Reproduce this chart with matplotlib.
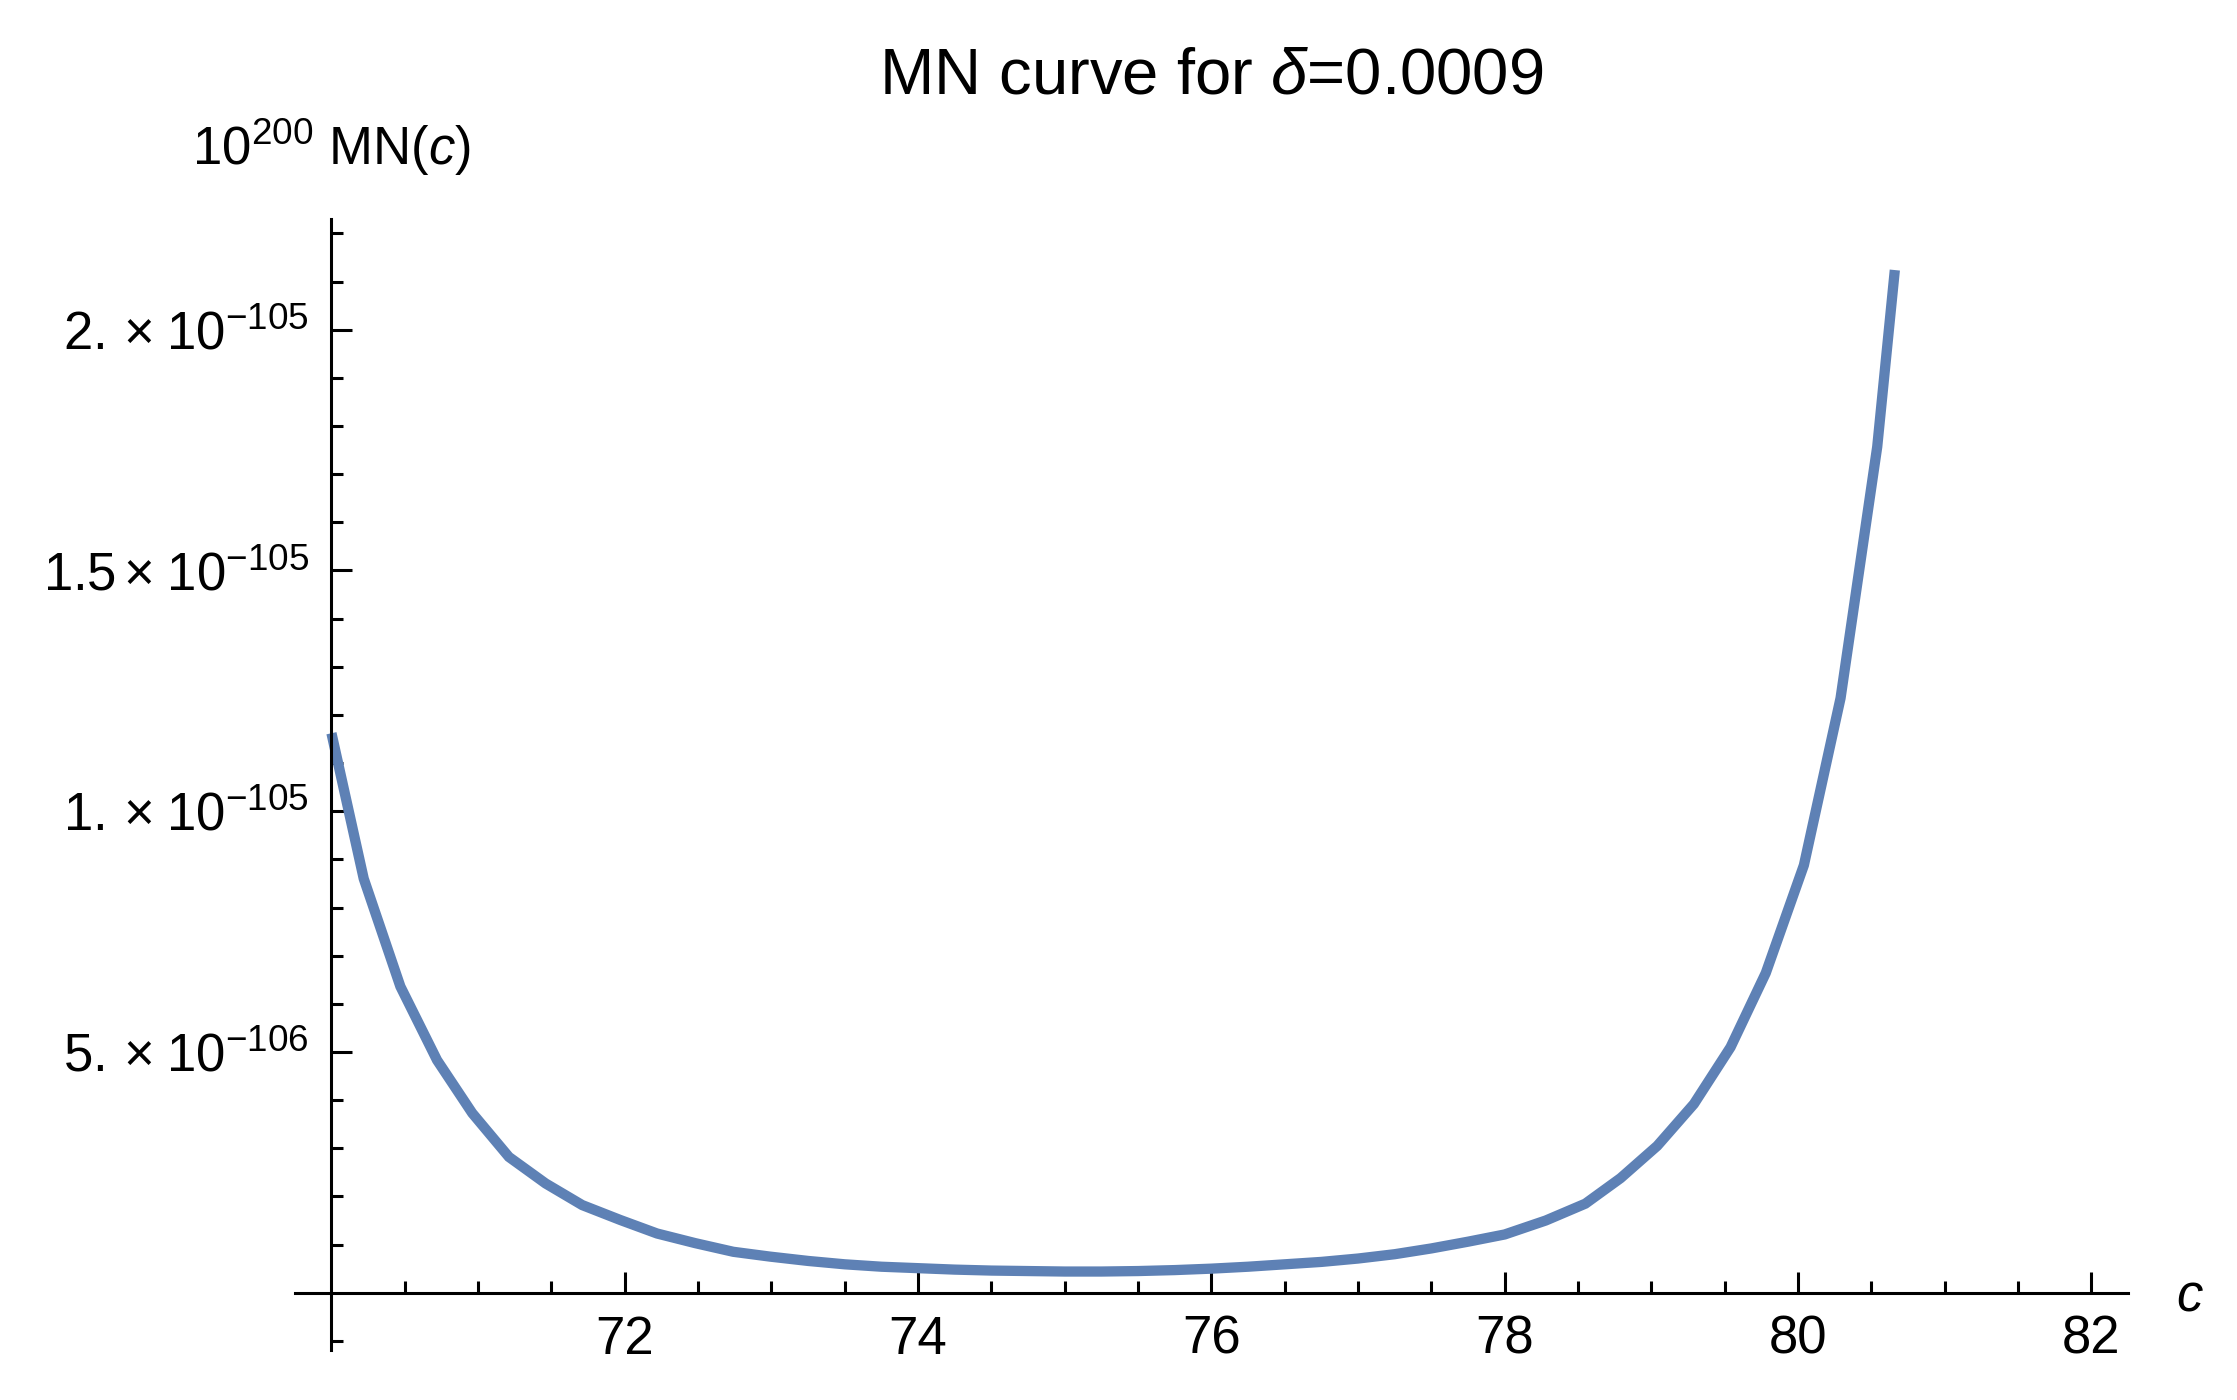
import numpy as np
import matplotlib
matplotlib.use("Agg")
import matplotlib.pyplot as plt
import matplotlib.transforms as mtransforms
from matplotlib.ticker import FixedLocator, FixedFormatter, NullFormatter

plt.rcParams.update({
    "font.family": ["Liberation Sans", "DejaVu Sans"],
    "mathtext.fontset": "custom",
    "mathtext.rm": "Liberation Sans",
    "mathtext.it": "Liberation Sans:italic",
    "mathtext.bf": "Liberation Sans:bold",
})

# ---- data ----
MN_UNIT = 1e-106
c_values = [70.00, 70.22, 70.47, 70.72, 70.96, 71.21, 71.46, 71.71, 71.97, 72.22,
            72.48, 72.74, 72.99, 73.25, 73.50, 73.75, 74.00, 74.25, 74.50, 74.75,
            75.00, 75.25, 75.50, 75.75, 76.00, 76.25, 76.50, 76.75, 77.00, 77.25,
            77.50, 77.75, 78.00, 78.28, 78.55, 78.79, 79.04, 79.29, 79.54, 79.78,
            80.04, 80.29, 80.54, 80.66]
mn_mantissa = [11.62, 8.60, 6.36, 4.83, 3.73, 2.82, 2.27, 1.82, 1.51, 1.23,
               1.03, 0.85, 0.75, 0.66, 0.59, 0.54, 0.51, 0.48, 0.46, 0.45,
               0.44, 0.44, 0.45, 0.47, 0.50, 0.54, 0.59, 0.64, 0.71, 0.80,
               0.92, 1.06, 1.21, 1.50, 1.85, 2.38, 3.05, 3.92, 5.10, 6.64,
               8.88, 12.35, 17.57, 21.24]
mn_values = [m * MN_UNIT for m in mn_mantissa]

x_major_ticks = [72, 74, 76, 78, 80, 82]
x_major_labels = ["72", "74", "76", "78", "80", "82"]
y_major_ticks = [5e-106, 1e-105, 1.5e-105, 2e-105]
y_major_labels = [r"$5.\,{\times}\;10^{-106}$", r"$1.\,{\times}\;10^{-105}$",
                  r"$1.5\,{\times}\;10^{-105}$", r"$2.\,{\times}\;10^{-105}$"]

title_text = r"MN curve for $\mathit{\delta}$=0.0009"
ylabel_text = r"$10^{200}\ \mathrm{MN}(\mathit{c})$"
xlabel_text = r"$\mathit{c}$"

# ---- figure ----
fig = plt.figure(figsize=(2237 / 200, 1400 / 200), dpi=200)
ax = fig.add_axes([0.13178, 0.03536, 0.8195, 0.8082])

ax.plot(c_values, mn_values, color="#5E81B5", lw=3.7,
        solid_capstyle="butt", solid_joinstyle="miter", zorder=2)

ax.set_xlim(69.75, 82.25)
ax.set_ylim(-1.2e-106, 22.3e-106)

for s in ("top", "right"):
    ax.spines[s].set_visible(False)
ax.spines["left"].set_position(("data", 70))
ax.spines["bottom"].set_position(("data", 0))
for s in ("left", "bottom"):
    ax.spines[s].set_linewidth(1.1)
    ax.spines[s].set_color("black")

x_minor = [v for v in np.arange(70.5, 82.01, 0.5) if v not in x_major_ticks]
y_minor = [k * MN_UNIT for k in range(-1, 23) if k != 0 and k % 5 != 0]

ax.xaxis.set_major_locator(FixedLocator(x_major_ticks))
ax.xaxis.set_major_formatter(FixedFormatter(x_major_labels))
ax.xaxis.set_minor_locator(FixedLocator(x_minor))
ax.xaxis.set_minor_formatter(NullFormatter())
ax.yaxis.set_major_locator(FixedLocator(y_major_ticks))
ax.yaxis.set_major_formatter(FixedFormatter(y_major_labels))
ax.yaxis.set_minor_locator(FixedLocator(y_minor))
ax.yaxis.set_minor_formatter(NullFormatter())

ax.tick_params(which="both", direction="in", width=1.1, color="black",
               labelsize=19, pad=8)
ax.tick_params(which="major", length=7.6)
ax.tick_params(which="minor", length=4.3)

blend = mtransforms.blended_transform_factory(ax.transData, ax.transAxes)
ax.text(70, 1.0477, ylabel_text, transform=blend, ha="center", va="baseline",
        fontsize=19)
ax.text(0.5, 1.1113, title_text, transform=ax.transAxes, ha="center",
        va="baseline", fontsize=23.5)
blend2 = mtransforms.blended_transform_factory(ax.transAxes, ax.transData)
ax.text(1.0338, -0.374e-106, xlabel_text, transform=blend2, ha="center",
        va="baseline", fontsize=19)

fig.savefig("out.png", dpi=200)
